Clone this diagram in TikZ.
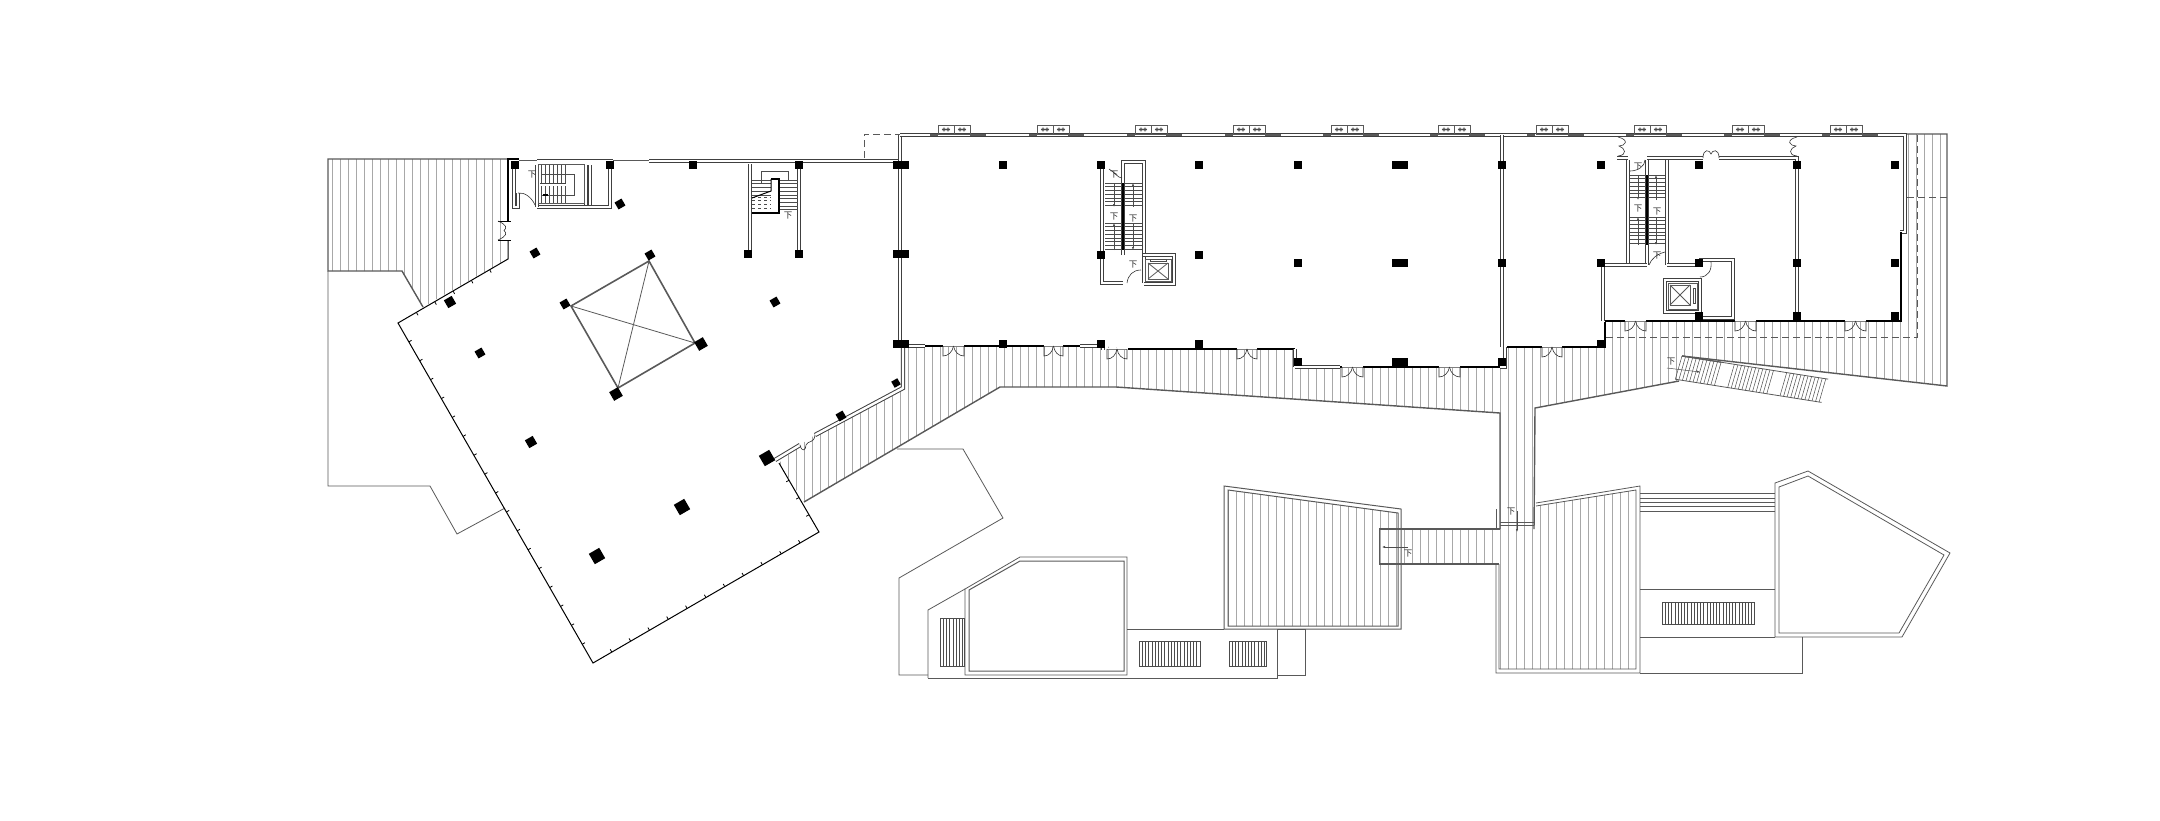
\documentclass[tikz,border=0pt]{standalone}
\usepackage{fontspec}
\newfontfamily\cjk{Noto Sans CJK SC}
\usetikzlibrary{arrows.meta}

\tikzset{
  hatchline/.style={draw=black!34, line width=0.8pt},
  edgeline/.style={draw=black!65, line width=1.4pt},
  thinline/.style={draw=black!65, line width=0.8pt},
  doorline/.style={draw=black!80, line width=0.6pt},
  wallline/.style={draw=black, line width=1pt},
  thickwall/.style={draw=black, line width=1.7pt},
  dwall/.style={draw=black!75, line width=0.8pt, double=white, double distance=2pt},
  treadline/.style={draw=black!70, line width=0.5pt},
  dashline/.style={draw=black!65, line width=0.8pt, dash pattern=on 7pt off 4pt},
  pyramid/.style={draw=black!65, line width=1.6pt},
  downlabel/.style={font=\cjk\fontsize{8.5}{9}\selectfont, text=black!85, inner sep=0pt}
}

% zone of parallel lines: clip path, first x, last x
\newcommand{\hatchzone}[3]{
  \begin{scope}
    \clip #1 -- cycle;
    \pgfmathsetmacro{\hnext}{#2+8}
    \foreach \hx in {#2,\hnext,...,#3}
      \draw[hatchline] (\hx,100) -- (\hx,720);
  \end{scope}
}
% double door in a horizontal wall
\newcommand{\twodoor}[3]{
  \draw[white, line width=2.6pt] (#1,#3) -- (#2,#3);
  \draw[black!50, line width=0.7pt] (#1,#3) -- (#2,#3);
  \draw[doorline] (#1,#3) -- (#1,#3+10) .. controls (#1+5,#3+10) and ({(#1+#2)/2-1},#3+6) .. ({(#1+#2)/2},#3);
  \draw[doorline] (#2,#3) -- (#2,#3+10) .. controls (#2-5,#3+10) and ({(#1+#2)/2+1},#3+6) .. ({(#1+#2)/2},#3);
}
% stair treads, horizontal lines
\newcommand{\treads}[4]{
  \pgfmathsetmacro{\tnext}{#3+3.7}
  \foreach \ty in {#3,\tnext,...,#4}
    \draw[treadline] (#1,\ty) -- (#2,\ty);
}
% grating, vertical lines
\newcommand{\grating}[4]{
  \draw[treadline] (#1,#2) rectangle (#3,#4);
  \pgfmathsetmacro{\gnext}{#1+3.2}
  \foreach \tx in {#1,\gnext,...,#3}
    \draw[treadline] (\tx,#2) -- (\tx,#4);
}
% air conditioner pair on the roof edge
\newcommand{\acunit}[1]{
  \draw[thinline] (#1,125) rectangle (#1+16,134);
  \draw[thinline] (#1+16,125) rectangle (#1+32,134);
  \draw[treadline] (#1+4,129.5) -- (#1+12,129.5);
  \draw[treadline] (#1+20,129.5) -- (#1+28,129.5);
  \draw[treadline] (#1+6,129.5) circle (1.8);
  \draw[treadline] (#1+10,129.5) circle (1.8);
  \draw[treadline] (#1+22,129.5) circle (1.8);
  \draw[treadline] (#1+26,129.5) circle (1.8);
}
% lift shaft
\newcommand{\liftcar}[4]{
  \draw[thinline] (#1,#2) rectangle (#3,#4);
  \draw[thinline] (#1,#2) -- (#3,#4);
  \draw[thinline] (#1,#4) -- (#3,#2);
}

\begin{document}
\begin{tikzpicture}[x=1pt,y=-1pt]
  \useasboundingbox (0,0) rectangle (2160,820);

  % hatched terraces
  \hatchzone{(328,159) -- (508,159) -- (508,259) -- (423,307) -- (402,271) -- (328,271)}{332}{508}
  \hatchzone{(779,463) -- (804,502) -- (1000,387) -- (1116,387) -- (1500,413) -- (1500,530) -- (1534,530) -- (1535,408) -- (1679,381) -- (1682,356) -- (1947,386) -- (1947,134) -- (1905,134) -- (1905,232) -- (1900,232) -- (1900,321) -- (1606,321) -- (1606,347) -- (1507,347) -- (1507,367) -- (1295,367) -- (1295,349) -- (1128,349) -- (1102,346) -- (905,346) -- (903,388) -- (815,435) -- (800,445)}{780}{1947}
  \hatchzone{(1500,410) -- (1534,410) -- (1534,506) -- (1636,490) -- (1636,669) -- (1499,669) -- (1499,564) -- (1379,564) -- (1379,529) -- (1500,529)}{1380}{1636}
  \hatchzone{(1227,490) -- (1398,513) -- (1398,626) -- (1227,626)}{1228}{1396}

  % outline of the terraces
  \draw[edgeline] (508,159) -- (328,159) -- (328,271) -- (402,271) -- (423,307);
  \draw[edgeline] (804,502) -- (1000,387) -- (1116,387) -- (1500,413) -- (1500,529);
  \draw[edgeline] (1534,529) -- (1535,408) -- (1679,381);
  \draw[edgeline] (1682,356) -- (1947,386) -- (1947,134) -- (1907,134);
  \draw[edgeline] (1379,529) -- (1500,529);
  \draw[edgeline] (1379,564) -- (1499,564);
  \draw[thinline] (1379,529) -- (1379,564);
  \draw[thinline] (1500,522) -- (1534,522);
  \draw[thinline] (1500,525) -- (1534,525);
  \draw[dashline] (1606,337) -- (1917,337) -- (1917,135);
  \draw[dashline] (1907,197) -- (1947,197);
  \draw[dashline] (864,158) -- (864,134) -- (900,134);

  % left outline, thin
  \draw[thinline] (328,271) -- (328,486) -- (430,486) -- (457,534) -- (505,508);

  % outer wall with ticks
  \draw[wallline] (508,240) -- (508,259) -- (398,323) -- (593,663) -- (819,532) -- (779,463);
  \foreach \t in {1,...,5}
    \draw[wallline, line width=0.8pt] (508-\t*18.3,259+\t*10.7) -- ++(1.5,2.8);
  \foreach \t in {1,...,17}
    \draw[wallline, line width=0.8pt] (398+\t*10.83,323+\t*18.9) -- ++(2.8,-1.6);
  \foreach \t in {1,...,11}
    \draw[wallline, line width=0.8pt] (593+\t*18.83,663-\t*10.9) -- ++(-1.6,-2.8);
  \foreach \t in {1,2,3}
    \draw[wallline, line width=0.8pt] (779+\t*10,463+\t*17.25) -- ++(-2.8,1.6);

  % walls of the wing on the left
  \draw[thickwall, line width=1.5pt] (508,221) -- (508,159) -- (519,159);
  \draw[dwall] (514,165) -- (514,207) -- (518,207) -- (518,193);
  \draw[thinline] (519,160.5) -- (537,160.5);
  \draw[dwall] (537,160.5) -- (613,160.5);
  \draw[thinline] (613,160.5) -- (649,160.5);
  \draw[dwall] (649,161) -- (900,161);
  \draw[dwall] (900,135) -- (900,346);
  \draw[dwall, line width=1pt, double distance=2.4pt] (903,346) -- (903,388) -- (815,435);
  \draw[dwall, line width=1pt, double distance=2.4pt] (800,445) -- (775,460);
  \draw[wallline, line width=0.8pt] (498,221) -- (511,221);
  \draw[wallline, line width=0.8pt] (498,240) -- (511,240);
  \draw[doorline] (498,221) .. controls (507,225) and (507,228) .. (504,230.5) .. controls (507,233) and (507,236) .. (498,240);
  \draw[doorline] (518,193) .. controls (525,192) and (532,198) .. (535,205);
  \draw[doorline] (800,445) .. controls (802,453) and (806,450) .. (806,445) .. controls (808,440) and (814,444) .. (815,435);

  % stair near the left door
  \draw[dwall] (537,207) -- (610,207) -- (610,164);
  \draw[dwall] (586,165) -- (586,205);
  \draw[dwall] (590,165) -- (590,205);
  \draw[dwall] (537,165) -- (537,207);
  \draw[thinline] (538,164) rectangle (584,203);
  \foreach \tx in {541,545,...,565}
    \draw[treadline] (\tx,165) -- (\tx,203);
  \draw[dwall] (540,184.5) -- (566,184.5);
  \draw[treadline] (541,174) -- (574,174) -- (574,195) -- (541,195);
  \draw[thickwall, line width=1.4pt] (543,195) -- (548,195);

  % stair in the left wing
  \draw[dwall] (750,164) -- (750,250);
  \draw[dwall] (799,164) -- (799,250);
  \draw[treadline] (761,183) -- (761,171) -- (788,171) -- (788,180);
  \treads{752}{771}{180}{195}
  \treads{780}{798}{180}{213}
  \begin{scope}[dashed]
    \treads{752}{771}{197}{213}
  \end{scope}
  \draw[thickwall] (771,179) -- (779,179) -- (779,213) -- (752,213);
  \draw[thickwall, line width=1pt] (771,179) -- (771,191) -- (752,198);

  % pyramid roof
  \draw[pyramid] (649,261) -- (695,343) -- (618,388) -- (571,306) -- cycle;
  \draw[thinline] (649,261) -- (618,388);
  \draw[thinline] (571,306) -- (695,343);

  % long wall of the main block
  \draw[dwall] (900,135) -- (1905,135) -- (1905,232) -- (1900,232);
  \foreach \x in {930,1029,1127,1225,1323,1430,1527,1626,1724,1822}
    \draw[black!65, line width=2.4pt] (\x,135) -- (\x+8,135);
  \foreach \x in {970,1068,1166,1265,1363,1469,1568,1666,1764,1862}
    \draw[black!65, line width=2.4pt] (\x,135) -- (\x+16,135);
  \foreach \x in {938,1037,1135,1233,1331,1438,1536,1634,1732,1830}
    {\acunit{\x}}

  % south walls
  \draw[dwall] (905,346) -- (925,346);
  \draw[thickwall] (925,346) -- (1080,346);
  \draw[dwall] (1080,346) -- (1098,346);
  \draw[dwall] (1103,346) -- (1103,350);
  \draw[thickwall] (1128,349) -- (1295,349);
  \draw[dwall] (1295,349) -- (1295,367);
  \draw[dwall] (1295,367) -- (1340,367);
  \draw[thickwall] (1340,367) -- (1500,367);
  \draw[dwall] (1502,135) -- (1502,347);
  \draw[dwall] (1505,347) -- (1505,367) -- (1500,367);
  \draw[thickwall] (1507,347) -- (1605,347) -- (1605,322);
  \draw[thickwall] (1605,321) -- (1901,321) -- (1901,232);
  \foreach \a/\b/\c in {943/964/346,1044/1063/346,1107/1127/349,1237/1257/349,1342/1363/367,1439/1460/367,1542/1562/347,1625/1646/321,1735/1756/321,1845/1866/321}
    {\twodoor{\a}{\b}{\c}}

  % central stair and lift
  \draw[dwall] (1102,165) -- (1102,283) -- (1123,283);
  \draw[dwall] (1123,255) -- (1123,162) -- (1144,162) -- (1144,283);
  \treads{1105}{1122}{183}{207}
  \treads{1105}{1122}{223}{250}
  \treads{1125}{1142}{183}{207}
  \treads{1125}{1142}{223}{250}
  \draw[thickwall, line width=1.1pt] (1123,183) -- (1123,250);
  \draw[treadline, -{Latex[length=3pt]}] (1114,183) -- (1114,207);
  \draw[treadline, -{Latex[length=3pt]}] (1114,250) -- (1114,223);
  \draw[treadline, -{Latex[length=3pt]}] (1133,207) -- (1133,183);
  \draw[treadline, -{Latex[length=3pt]}] (1133,223) -- (1133,250);
  \draw[doorline] (1109,169) .. controls (1114,172) and (1118,178) .. (1122,178);
  \draw[doorline] (1141,270) .. controls (1133,270) and (1128,275) .. (1127,283);
  \draw[dwall] (1143,255) -- (1174,255) -- (1174,284) -- (1144,284);
  \draw[thinline] (1145,259) rectangle (1171,281);
  \draw[treadline] (1150,259) rectangle (1166,261);
  \liftcar{1148}{263}{1168}{279}

  % east part, rooms
  \draw[dwall] (1628,160) -- (1628,265);
  \draw[dwall] (1647,160) -- (1647,265);
  \draw[dwall] (1667,160) -- (1667,265);
  \draw[dwall] (1617,158) -- (1628,158);
  \draw[dwall] (1647,158) -- (1703,158);
  \draw[dwall] (1719,158) -- (1797,158) -- (1797,316);
  \draw[dwall] (1603,265) -- (1647,265);
  \draw[dwall] (1667,265) -- (1699,265);
  \draw[dwall] (1603,265) -- (1603,321);
  \draw[dwall] (1699,260) -- (1733,260) -- (1733,318) -- (1700,318);
  \treads{1630}{1646}{175}{200}
  \treads{1630}{1646}{217}{245}
  \treads{1648}{1665}{175}{200}
  \treads{1648}{1665}{217}{245}
  \draw[thickwall, line width=1.1pt] (1647,175) -- (1647,245);
  \draw[treadline, -{Latex[length=3pt]}] (1638,175) -- (1638,200);
  \draw[treadline, -{Latex[length=3pt]}] (1638,245) -- (1638,217);
  \draw[treadline, -{Latex[length=3pt]}] (1656,200) -- (1656,175);
  \draw[treadline, -{Latex[length=3pt]}] (1656,217) -- (1656,245);
  \draw[dwall] (1665,280) rectangle (1700,312);
  \draw[thinline] (1668,283) rectangle (1697,309);
  \draw[treadline] (1693,288) rectangle (1695,303);
  \liftcar{1670}{285}{1690}{305}
  \draw[doorline] (1703,158) .. controls (1703,148) and (1710,150) .. (1711,154) .. controls (1712,150) and (1719,148) .. (1719,158);
  \draw[doorline] (1618,137) .. controls (1630,140) and (1625,146) .. (1619,146) .. controls (1625,148) and (1628,155) .. (1618,156);
  \draw[doorline] (1797,137) .. controls (1785,140) and (1790,146) .. (1796,146) .. controls (1790,148) and (1787,155) .. (1797,156);
  \draw[doorline] (1630,171) .. controls (1638,171) and (1645,166) .. (1645,160);
  \draw[doorline] (1649,265) .. controls (1651,259) and (1657,254) .. (1665,252);
  \draw[doorline] (1700,277) .. controls (1708,277) and (1712,270) .. (1711,262);

  % outdoor stair on the slope
  \begin{scope}[shift={(1682,356)},rotate=-9]
    \draw[thinline] (0,0) -- (148,0);
    \draw[thinline] (-3,24) -- (145,24);
    \foreach \sa/\sb in {0/40,53/94,106/148}{
      \pgfmathsetmacro{\snext}{\sa+3.6}
      \foreach \sx in {\sa,\snext,...,\sb}
        \draw[treadline] (\sx,0) -- (\sx-3,24);
    }
    \draw[edgeline, line width=1.2pt] (0,0) -- (40,0);
  \end{scope}
  \draw[treadline, -{Latex[length=3pt]}] (1667,368) -- (1700,372);

  % small stair on the bridge
  \draw[treadline, -{Latex[length=3pt]}] (1517,511) -- (1517,532);
  \draw[treadline, -{Latex[length=3pt]}] (1408,547) -- (1382,547);

  % block with hatched roof in the middle
  \draw[thinline, line width=1pt] (1224,486) -- (1401,509) -- (1401,629) -- (1224,629) -- cycle;
  \draw[thinline, line width=1pt] (1228,490) -- (1398,513) -- (1398,626) -- (1228,626) -- cycle;

  % thin outlines below the left wing
  \draw[thinline] (897,449) -- (963,449) -- (1003,518) -- (899,578) -- (899,675) -- (928,675);
  \draw[thinline] (928,678) -- (928,610) -- (965,589);
  \draw[thinline] (928,678) -- (1277,678) -- (1277,629);
  \draw[thinline] (1277,629) -- (1305,629) -- (1305,675) -- (1277,675);
  \draw[thinline] (1127,629) -- (1224,629);
  \draw[thinline] (965,675) -- (965,589) -- (1020,557) -- (1127,557) -- (1127,675) -- cycle;
  \draw[thinline, line width=1pt] (969,590) -- (1020,561) -- (1124,561) -- (1124,671) -- (969,671) -- cycle;
  \grating{940}{618}{964}{666}
  \grating{1139}{641}{1200}{666}
  \grating{1229}{641}{1266}{666}

  % block on the east with hatched roof
  \draw[thinline] (1496,509) -- (1496,530);
  \draw[thinline] (1496,564) -- (1496,673) -- (1640,673) -- (1640,486) -- (1536,503);
  \draw[thinline] (1499,564) -- (1499,669) -- (1636,669) -- (1636,490) -- (1536,506);
  \draw[thinline] (1640,673) -- (1802,673) -- (1802,637);
  \draw[thinline] (1640,637) -- (1775,637);
  \draw[thinline] (1640,589) -- (1775,589);
  \foreach \y in {493,498,502,506,511}
    \draw[thinline] (1640,\y) -- (1775,\y);
  \grating{1662}{602}{1754}{624}
  \draw[thinline] (1775,637) -- (1775,483) -- (1808,471) -- (1950,553) -- (1902,637) -- cycle;
  \draw[thinline] (1779,633) -- (1779,487) -- (1808,476) -- (1944,555) -- (1899,633) -- cycle;

  % columns, square
  \foreach \x/\y in {515/165,610/165,693/165,799/165,897/165,905/165,1003/165,1101/165,1199/165,1298/165,1396/165,1404/165,1502/165,1601/165,1699/165,1797/165,1895/165,748/254,799/254,897/254,905/254,1101/255,1199/255,1298/263,1396/263,1404/263,1502/263,1601/263,1699/263,1797/263,1895/263,897/344,905/344,1003/344,1101/344,1199/344,1298/362,1396/362,1404/362,1502/362,1601/344,1699/316,1797/316,1895/316}
    \fill[black] (\x-4,\y-4) rectangle (\x+4,\y+4);
  % columns, turned with the wing
  \foreach \x/\y/\s in {620/204/4,535/253/4,650/255/4,775/302/4,565/304/4,450/302/4.5,701/344/5,480/353/4,616/394/5,896/383/3.5,841/416/4,531/442/4.5,682/507/6,597/556/6,767/458/6}
    \fill[black, rotate around={30:(\x,\y)}] (\x-\s,\y-\s) rectangle (\x+\s,\y+\s);

  % labels
  \foreach \x/\y [count=\i] in {532/175,788/216,1114/175,1114/217,1133/219,1133/265,1638/167,1638/209,1657/212,1657/256,1671/362,1511/512,1408/554}
    \node[downlabel] (down\i) at (\x,\y) {下};
\end{tikzpicture}
\end{document}
